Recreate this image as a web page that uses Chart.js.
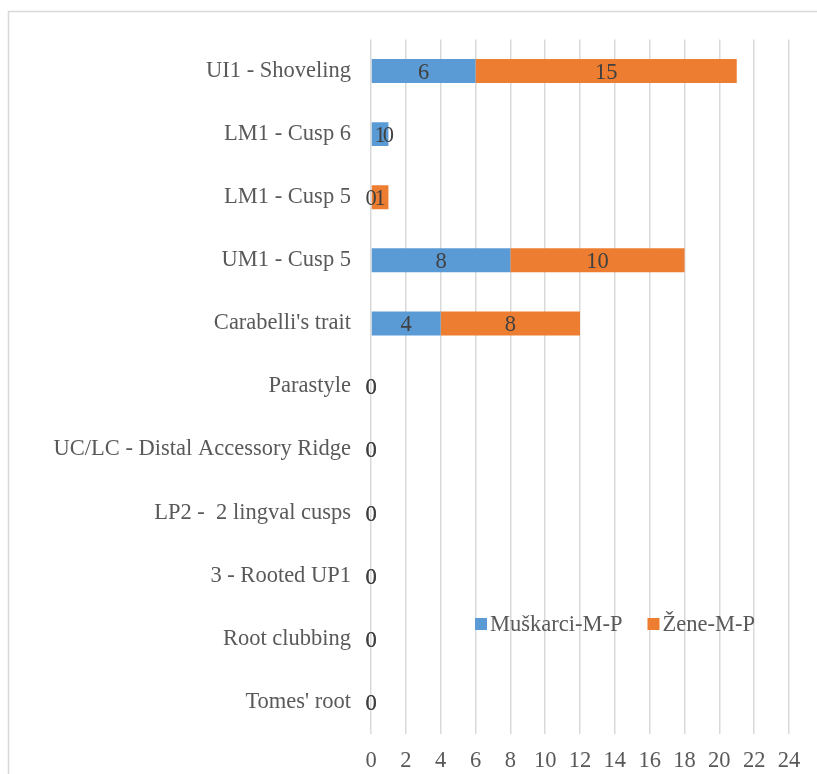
<!DOCTYPE html>
<html>
<head>
<meta charset="utf-8">
<script src="https://cdn.jsdelivr.net/npm/chart.js@4"></script>
<style>
  html, body { margin: 0; padding: 0; background: #fff; }
  #wrap { width: 817px; height: 774px; }
</style>
</head>
<body>
<div id="wrap"><canvas id="grafico" width="817" height="774"></canvas></div>
<script>
const categorias = [
  'UI1 - Shoveling',
  'LM1 - Cusp 6',
  'LM1 - Cusp 5',
  'UM1 - Cusp 5',
  "Carabelli's trait",
  'Parastyle',
  'UC/LC - Distal Accessory Ridge',
  'LP2 -  2 lingval cusps',
  '3 - Rooted UP1',
  'Root clubbing',
  "Tomes' root"
];
const muskarci = [6, 1, 0, 8, 4, 0, 0, 0, 0, 0, 0];
const zene = [15, 0, 1, 10, 8, 0, 0, 0, 0, 0, 0];
const nomes = ['Muškarci-M-P', 'Žene-M-P'];
const cores = ['#5B9BD5', '#ED7D31'];

const fonte = 'Liberation Serif, Times New Roman, serif';
const tam = 22.5;

// rotulos de valor no meio de cada barra (inclusive os zeros)
const rotulos = {
  id: 'rotulos',
  afterDatasetsDraw(chart) {
    const ctx = chart.ctx;
    ctx.save();
    ctx.font = tam + 'px ' + fonte;
    ctx.fillStyle = '#404040';
    ctx.textAlign = 'center';
    ctx.textBaseline = 'middle';
    chart.data.datasets.forEach((ds, i) => {
      chart.getDatasetMeta(i).data.forEach((bar, j) => {
        const p = bar.getProps(['x', 'y', 'base'], true);
        ctx.fillText(ds.data[j], (p.x + p.base) / 2, p.y + 2);
      });
    });
    ctx.restore();
  }
};

// moldura e legenda dentro da area do grafico
const moldura = {
  id: 'moldura',
  afterDraw(chart) {
    const ctx = chart.ctx;
    ctx.save();
    ctx.strokeStyle = '#d9d9d9';
    ctx.lineWidth = 1.5;
    ctx.strokeRect(8.5, 11.5, 1000, 1000);

    ctx.font = tam + 'px ' + fonte;
    ctx.textBaseline = 'middle';
    ctx.textAlign = 'left';
    let x = 475;
    const y = 624;
    chart.data.datasets.forEach((ds) => {
      ctx.fillStyle = ds.backgroundColor;
      ctx.fillRect(x, y - 6, 12, 12);
      ctx.fillStyle = '#595959';
      ctx.fillText(ds.label, x + 15, y + 1);
      x += 15 + ctx.measureText(ds.label).width + 25;
    });
    ctx.restore();
  }
};

const ctx = document.getElementById('grafico').getContext('2d');
new Chart(ctx, {
  type: 'bar',
  data: {
    labels: categorias,
    datasets: [
      { label: nomes[0], data: muskarci, backgroundColor: cores[0], borderWidth: 0 },
      { label: nomes[1], data: zene, backgroundColor: cores[1], borderWidth: 0 }
    ]
  },
  options: {
    indexAxis: 'y',
    responsive: false,
    animation: false,
    maintainAspectRatio: false,
    barPercentage: 0.76,
    categoryPercentage: 0.5,
    layout: { padding: { top: 39.5, right: 28, bottom: 0, left: 0 } },
    plugins: {
      legend: { display: false },
      tooltip: { enabled: false }
    },
    scales: {
      x: {
        stacked: true,
        min: 0,
        max: 24,
        ticks: {
          stepSize: 2,
          color: '#595959',
          font: { family: fonte, size: tam },
          padding: 14
        },
        grid: { color: '#d9d9d9', lineWidth: 1.5, drawTicks: false },
        border: { display: false },
        afterFit(scale) { scale.height = 40.5; }
      },
      y: {
        stacked: true,
        ticks: {
          color: '#595959',
          font: { family: fonte, size: tam },
          padding: 20
        },
        grid: { display: false, drawTicks: false },
        border: { display: false },
        afterFit(scale) { scale.width = 371; }
      }
    }
  },
  plugins: [rotulos, moldura]
});
</script>
</body>
</html>
